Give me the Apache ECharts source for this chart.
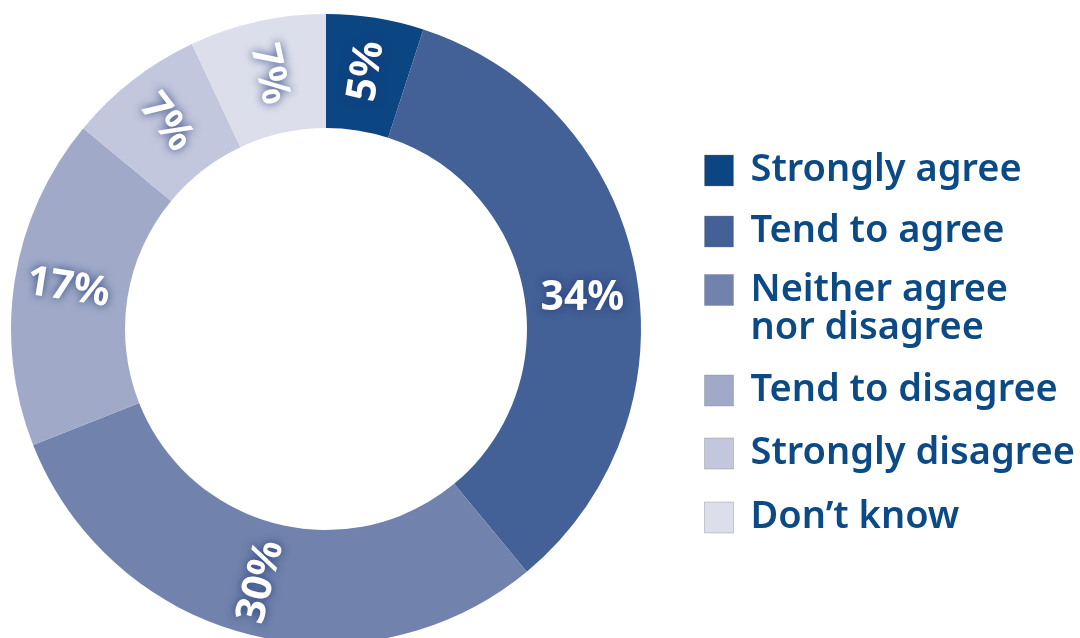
<!DOCTYPE html>
<html>
<head>
<meta charset="utf-8">
<style>
  html, body { margin: 0; padding: 0; background: #ffffff; }
  #chart { width: 1080px; height: 638px; }
</style>
<script src="https://cdn.jsdelivr.net/npm/echarts@6/dist/echarts.min.js"></script>
</head>
<body>
<div id="chart"></div>
<script>
// Survey answers, shares in percent (clockwise from 12 o'clock)
const categories = ['Strongly agree', 'Tend to agree', 'Neither agree nor disagree', 'Tend to disagree', 'Strongly disagree', 'Don’t know'];
const shares = [5, 34, 30, 17, 7, 7];
const colors = ['#0b4682', '#436196', '#7183ac', '#a0aac8', '#c3c7dd', '#dcdfeb'];

// Vertical centre of each legend marker
const legendCentres = [167, 228, 290, 387, 450, 514];

const chart = echarts.init(document.getElementById('chart'), null, { renderer: 'canvas' });

const FONT = '"Noto Sans", "Open Sans", sans-serif';
const LEGEND_COLOR = '#0c4a85';
const ICON_H = 31;

// Long names wrap onto a second line; a leading empty line keeps the
// first printed line level with the marker.
function legendLabel(name) {
  return name.indexOf(' nor ') >= 0 ? '\n' + name.replace(' nor ', '\nnor ') : name;
}

const legends = categories.map((name, i) => {
  const lines = legendLabel(name).split('\n').length;
  const lineH = lines > 1 ? 38 : ICON_H;
  return {
    orient: 'vertical',
    left: 704,
    top: legendCentres[i] - (lines * lineH) / 2,
    padding: 0,
    itemWidth: 29,
    itemHeight: ICON_H,
    icon: 'rect',
    selectedMode: false,
    data: [name],
    formatter: legendLabel,
    itemStyle: { borderColor: 'rgba(120,120,130,0.35)', borderWidth: 1 },
    textStyle: {
      fontFamily: FONT,
      fontSize: 38,
      fontWeight: 600,
      color: LEGEND_COLOR,
      lineHeight: lineH,
      padding: [0, 0, 0, 12]
    }
  };
});

chart.setOption({
  animation: false,
  backgroundColor: '#ffffff',
  color: colors,
  legend: legends,
  series: [{
    type: 'pie',
    center: [326, 329],
    radius: [201, 315],
    startAngle: 90,
    clockwise: true,
    avoidLabelOverlap: false,
    silent: true,
    label: {
      show: true,
      position: 'inside',
      rotate: 'radial',
      formatter: '{c}%',
      fontFamily: FONT,
      fontSize: 41,
      fontWeight: 'bold',
      color: '#ffffff',
      textShadowColor: 'rgba(30,55,120,0.9)',
      textShadowBlur: 10
    },
    // the large right-hand segment keeps its label level, a little lower
    labelLayout: function (params) {
      return params.dataIndex === 1 ? { rotate: 0, dy: 18 } : {};
    },
    labelLine: { show: false },
    data: categories.map((name, i) => ({ name: name, value: shares[i] }))
  }]
});
</script>
</body>
</html>
